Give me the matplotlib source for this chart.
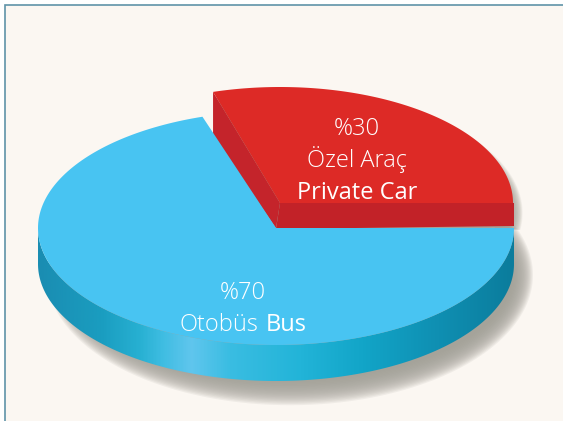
import numpy as np
import matplotlib
matplotlib.use('Agg')
import matplotlib.pyplot as plt
from matplotlib.colors import LinearSegmentedColormap
from matplotlib.patches import Polygon, Rectangle

shares = [30, 70]
percent_labels = ['%30', '%70']
car_labels = ['Özel Araç', 'Private Car']
bus_labels = ['Otobüs', 'Bus']

plt.rcParams['font.family'] = ['Open Sans', 'DejaVu Sans']


def arc(cx, cy, rx, ry, a0, a1, n=200):
    t = np.radians(np.linspace(a0, a1, n))
    return np.column_stack([cx + rx * np.cos(t), cy - ry * np.sin(t)])


fig = plt.figure(figsize=(5.63, 4.21), dpi=100, facecolor='white')
ax = fig.add_axes([0, 0, 1, 1])
ax.set_xlim(0, 563)
ax.set_ylim(421, 0)
ax.axis('off')

# panel
ax.add_patch(Rectangle((5, 5), 570, 430, fc='#fbf7f2', ec='#5f93a8', lw=1.2, zorder=0))

split = 360 * shares[0] / sum(shares)
bus_c = (276, 228)
bus_rx, bus_ry, depth = 238, 117, 36
car_c = (280, 203)
car_rx, car_ry, car_depth = 233, 116, 25
car_split = split - 1.3  # the red wedge is drawn a touch narrower

# soft shadow, stacked shapes, only shows on the lower right
for i in range(20):
    grow = 11 - i * 1.1
    ax.add_patch(Polygon(arc(bus_c[0] + 14, bus_c[1] + depth + 11, bus_rx - 6 + grow, bus_ry + grow * 1.2, 0, 360),
                         fc='#a3a198', ec='none', alpha=0.13, zorder=1))
    ax.add_patch(Polygon(np.vstack([[car_c], arc(car_c[0] + 3, car_c[1] + 10, car_rx + grow * 0.6, car_ry + grow * 0.6, -8, car_split)]),
                         fc='#a3a198', ec='none', alpha=0.1, zorder=1))

# red slice sides and top
car_top = np.vstack([[car_c], arc(*car_c, car_rx, car_ry, 0, car_split)])
left_pt = car_top[-1]
ax.add_patch(Polygon([left_pt, car_c, bus_c, (left_pt[0], left_pt[1] + 45)],
                     fc='#c4242b', ec='none', zorder=2))
ax.add_patch(Polygon([car_c, (car_c[0] + car_rx + 1, car_c[1]), (car_c[0] + car_rx + 1, car_c[1] + car_depth - 2), (bus_c[0], bus_c[1] + 1)],
                     fc='#c22228', ec='none', zorder=2))
ax.add_patch(Polygon(car_top, fc='#dd2a26', ec='none', zorder=3))

# blue side with the horizontal gradient
side = np.vstack([arc(*bus_c, bus_rx, bus_ry, 180, 360),
                  arc(bus_c[0], bus_c[1] + depth, bus_rx, bus_ry, 360, 180)])
side_patch = Polygon(side, fc='none', ec='none', zorder=4)
ax.add_patch(side_patch)
cmap = LinearSegmentedColormap.from_list('side', [
    (0.00, '#1a8db2'), (0.13, '#1a9dc0'), (0.21, '#27b0d2'), (0.26, '#3fbde2'),
    (0.32, '#60c6ee'), (0.40, '#3abde2'), (0.55, '#22b4d8'), (0.68, '#12a5c8'),
    (0.84, '#0f8fb2'), (1.00, '#0b7c9c')])
im = ax.imshow(np.linspace(0, 1, 400).reshape(1, -1), extent=(38, 516, 421, 0),
               cmap=cmap, aspect='auto', zorder=4)
im.set_clip_path(side_patch)
ax.set_xlim(0, 563)
ax.set_ylim(421, 0)

# blue top
bus_top = np.vstack([[bus_c], arc(*bus_c, bus_rx, bus_ry, split, 360)])
ax.add_patch(Polygon(bus_top, fc='#48c4f2', ec='none', zorder=5))

# labels
ax.text(357, 135, percent_labels[0], color='white', fontsize=17, fontweight='light', ha='center', va='baseline', zorder=6)
ax.text(357, 167, car_labels[0], color='white', fontsize=17, fontweight='light', ha='center', va='baseline', zorder=6)
ax.text(357, 199, car_labels[1], color='white', fontsize=17, ha='center', va='baseline', zorder=6)
ax.text(243, 299, percent_labels[1], color='white', fontsize=17, fontweight='light', ha='center', va='baseline', zorder=6)
ax.text(258, 331, bus_labels[0], color='white', fontsize=17, fontweight='light', ha='right', va='baseline', zorder=6)
ax.text(266, 331, bus_labels[1], color='white', fontsize=17, ha='left', va='baseline', zorder=6)

fig.savefig('out.png', dpi=100)
